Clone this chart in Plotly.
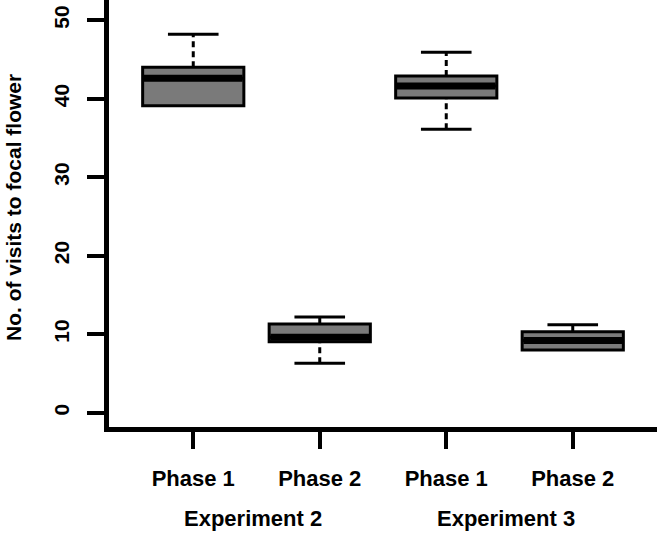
import plotly.graph_objects as go

# ---- data ----
phase_labels = ["Phase 1", "Phase 2", "Phase 1", "Phase 2"]
experiments = ["Experiment 2", "Experiment 3"]
lower_whisker = [39.1, 6.3, 36.1, 8.0]
q1 = [39.1, 9.05, 40.1, 8.0]
median = [42.6, 9.6, 41.6, 9.2]
q3 = [44.0, 11.3, 42.9, 10.3]
upper_whisker = [48.2, 12.2, 45.9, 11.2]
y_ticks = [0, 10, 20, 30, 40, 50]

positions = list(range(1, len(phase_labels) + 1))
box_w = 0.8
cap_half = 0.2
FONT = "Liberation Sans, Arial, Helvetica, sans-serif"

fig = go.Figure()

# boxes (no whiskers, drawn separately with dashes)
fig.add_trace(go.Box(
    x=positions, q1=q1, median=median, q3=q3,
    lowerfence=q1, upperfence=q3,
    width=box_w, whiskerwidth=0,
    fillcolor="#7a7a7a",
    line=dict(color="black", width=3),
    boxpoints=False, showlegend=False, hoverinfo="skip",
))

# dashed whisker stems
wx, wy = [], []
for p, lo, a, b, hi in zip(positions, lower_whisker, q1, q3, upper_whisker):
    if hi > b:
        wx += [p, p, None]; wy += [b, hi, None]
    if lo < a:
        wx += [p, p, None]; wy += [lo, a, None]
fig.add_trace(go.Scatter(x=wx, y=wy, mode="lines",
                         line=dict(color="black", width=3, dash="6px,4px"),
                         showlegend=False, hoverinfo="skip"))

# whisker caps
cx, cy = [], []
for p, lo, a, b, hi in zip(positions, lower_whisker, q1, q3, upper_whisker):
    if hi > b:
        cx += [p - cap_half, p + cap_half, None]; cy += [hi, hi, None]
    if lo < a:
        cx += [p - cap_half, p + cap_half, None]; cy += [lo, lo, None]
fig.add_trace(go.Scatter(x=cx, y=cy, mode="lines",
                         line=dict(color="black", width=3),
                         showlegend=False, hoverinfo="skip"))

# thick medians
mx, my = [], []
for p, m in zip(positions, median):
    mx += [p - box_w / 2 + 0.01, p + box_w / 2 - 0.01, None]; my += [m, m, None]
fig.add_trace(go.Scatter(x=mx, y=my, mode="lines",
                         line=dict(color="black", width=7),
                         showlegend=False, hoverinfo="skip"))

fig.update_layout(
    width=658, height=533,
    margin=dict(l=109, r=1, t=0, b=106),
    paper_bgcolor="white", plot_bgcolor="white",
    font=dict(family=FONT, color="black"),
    showlegend=False,
)
fig.update_xaxes(
    range=[0.334, 4.666],
    tickmode="array", tickvals=positions, ticktext=phase_labels,
    tickfont=dict(family=FONT, size=22, weight="bold", color="black"),
    showgrid=False, zeroline=False,
    showline=True, linecolor="black", linewidth=5,
    ticks="outside", ticklen=17, tickwidth=4, tickcolor="black",
    ticklabelstandoff=11,
)
fig.update_yaxes(
    range=[-1.82, 52.57],
    tickmode="array", tickvals=y_ticks, ticktext=[str(v) for v in y_ticks],
    tickangle=-90,
    tickfont=dict(family=FONT, size=21, weight="bold", color="black"),
    showgrid=False, zeroline=False,
    showline=True, linecolor="black", linewidth=5,
    ticks="outside", ticklen=17, tickwidth=4, tickcolor="black",
    ticklabelstandoff=10,
)

# y title
fig.add_annotation(
    text="No. of visits to focal flower", textangle=-90,
    xref="paper", yref="paper", x=(13 - 109) / 548, y=(427 - 208) / 427,
    xanchor="center", yanchor="middle", showarrow=False,
    font=dict(family=FONT, size=21, weight="bold", color="black"),
)
# experiment group labels
for xc, label in zip([1.47, 3.47], experiments):
    fig.add_annotation(
        text=label, xref="x", yref="paper", x=xc, y=(427 - 518) / 427,
        xanchor="center", yanchor="middle", showarrow=False,
        font=dict(family=FONT, size=22, weight="bold", color="black"),
    )

fig.write_html("out.html", config={"displayModeBar": False},
               post_script="document.body.style.margin='0';")
